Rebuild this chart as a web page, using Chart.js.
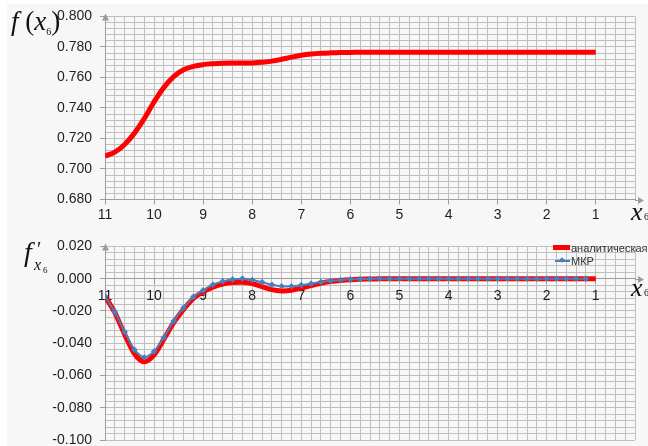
<!DOCTYPE html>
<html>
<head>
<meta charset="utf-8">
<script src="https://cdn.jsdelivr.net/npm/chart.js@4.4.1/dist/chart.umd.min.js"></script>
<style>
  html, body { margin: 0; padding: 0; width: 648px; height: 446px; overflow: hidden; background: #ffffff; }
  #frame { position: absolute; left: 7px; top: 4px; right: 0; bottom: 0; background: #f7f7f7; }
  .panel { position: absolute; left: 0; width: 648px; height: 230px; }
  #topPanel { top: 0; }
  #botPanel { top: 230px; }
  .m { position: absolute; font-family: "Liberation Serif", "Times New Roman", serif; color: #111; line-height: 1; white-space: nowrap; }
  .it { font-style: italic; }
  .lg { position: absolute; font-family: "Liberation Sans", Arial, sans-serif; font-size: 11px; line-height: 14px; color: #333; white-space: nowrap; }
  .sw { position: absolute; }
</style>
</head>
<body>
<div id="frame"></div>
<div class="panel" id="topPanel"><canvas id="cTop" width="648" height="230"></canvas></div>
<div class="panel" id="botPanel"><canvas id="cBot" width="648" height="230"></canvas></div>

<!-- axis titles -->
<div class="m" style="left:11px;top:8px;font-size:27px"><span class="it">f</span> (<span class="it">x</span><span style="font-size:10px;position:relative;top:5px">6</span>)</div>
<div class="m it" style="left:631px;top:199px;font-size:26px">x</div>
<div class="m" style="left:644px;top:212px;font-size:10px">6</div>

<div class="m it" style="left:24px;top:238px;font-size:28px">f</div>
<div class="m" style="left:37px;top:239px;font-size:20px">′</div>
<div class="m it" style="left:34px;top:257px;font-size:16px">x</div>
<div class="m" style="left:43px;top:266px;font-size:9px">6</div>
<div class="m it" style="left:631px;top:275px;font-size:26px">x</div>
<div class="m" style="left:644px;top:288px;font-size:10px">6</div>

<!-- legend -->
<div class="sw" style="left:553px;top:245px;width:17px;height:5px;background:#ff0000"></div>
<div class="lg" style="left:571px;top:241px">аналитическая</div>
<div class="sw" style="left:555px;top:260px;width:15px;height:2px;background:#4a7ebb"></div>
<div class="sw" style="left:560px;top:258px;width:4px;height:4px;background:#4a7ebb;transform:rotate(45deg)"></div>
<div class="lg" style="left:571px;top:254px">МКР</div>

<script>
// x6 grid of the computation, from 11 down to 1
const xs = [11, 10.8, 10.6, 10.4, 10.2, 10, 9.8, 9.6, 9.4, 9.2, 9, 8.8, 8.6, 8.4, 8.2, 8,
  7.8, 7.6, 7.4, 7.2, 7, 6.8, 6.6, 6.4, 6.2, 6, 5.8, 5.6, 5.4, 5.2, 5, 4.8, 4.6, 4.4, 4.2, 4,
  3.8, 3.6, 3.4, 3.2, 3, 2.8, 2.6, 2.4, 2.2, 2, 1.8, 1.6, 1.4, 1.2, 1];

// labelled x ticks
const xLabels = [11, 10, 9, 8, 7, 6, 5, 4, 3, 2, 1];

// f(x6)
const fTop = [0.7085, 0.7110, 0.7160, 0.7235, 0.7330, 0.7440, 0.7535, 0.7605, 0.7650, 0.7672,
  0.7684, 0.7690, 0.7693, 0.7694, 0.7694, 0.7695, 0.7699, 0.7707, 0.7719, 0.7733, 0.7745,
  0.7753, 0.7758, 0.7761, 0.7763, 0.7764,
  0.7765, 0.7765, 0.7765, 0.7765, 0.7765, 0.7765, 0.7765, 0.7765, 0.7765, 0.7765,
  0.7765, 0.7765, 0.7765, 0.7765, 0.7765, 0.7765, 0.7765, 0.7765, 0.7765, 0.7765,
  0.7765, 0.7765, 0.7765, 0.7765, 0.7765];

// analytic derivative f'_{x6}
const dfAnalytic = [-0.0110, -0.0210, -0.0345, -0.0465, -0.0515, -0.0472, -0.0375, -0.0273,
  -0.0190, -0.0123, -0.0082, -0.0052, -0.0033, -0.0024, -0.0022, -0.0030, -0.0050, -0.0068,
  -0.0076, -0.0072, -0.0058, -0.0043, -0.0028, -0.0018, -0.0011, -0.0006, -0.0003, -0.0002,
  -0.0001, 0, 0, 0, 0, 0, 0, 0, 0, 0, 0, 0, 0, 0, 0, 0, 0, 0, 0, 0, 0, 0, 0];

// finite-difference derivative (x6 = 11 ... 1.2)
const dfMkr = [-0.0109, -0.0207, -0.0330, -0.0441, -0.0488, -0.0451, -0.0365, -0.0263,
  -0.0181, -0.0113, -0.0072, -0.0037, -0.0017, -0.0005, 0.0000, -0.0008, -0.0022, -0.0038,
  -0.0047, -0.0047, -0.0040, -0.0031, -0.0021, -0.0013, -0.0008, -0.0004, -0.0002, -0.0001,
  0, 0, 0, 0, 0, 0, 0, 0, 0, 0, 0, 0, 0, 0, 0, 0, 0, 0, 0, 0, 0, 0];

// labelled y ticks
const yTopLabels = [0.68, 0.70, 0.72, 0.74, 0.76, 0.78, 0.80];
const yBotLabels = [-0.10, -0.08, -0.06, -0.04, -0.02, 0, 0.02];

const GRID = '#bfbfbf';
const AXIS = '#9c9c9c';
const TEXT = '#1e1e1e';
const FONT = { family: '"Liberation Sans", Arial, sans-serif', size: 14 };
const NONE = 'rgba(0,0,0,0)';

const near = (list, v) => list.some(t => Math.abs(t - v) < 1e-6);
const pts = (ys) => ys.map((y, i) => ({ x: xs[i], y }));

// arrowheads at the ends of both axes
const axisArrows = {
  id: 'axisArrows',
  afterDraw(chart, args, opts) {
    const { ctx, chartArea: a, scales } = chart;
    const yx = opts.atZero ? Math.round(scales.y.getPixelForValue(0)) + 0.5 : Math.round(a.bottom) + 0.5;
    const x0 = Math.round(a.left) + 0.5;
    ctx.save();
    ctx.strokeStyle = AXIS;
    ctx.fillStyle = AXIS;
    ctx.lineWidth = 1;
    ctx.beginPath();
    ctx.moveTo(a.right, yx);
    ctx.lineTo(a.right + 4, yx);
    ctx.stroke();
    ctx.beginPath();
    ctx.moveTo(a.right + 9, yx);
    ctx.lineTo(a.right + 3, yx - 3.5);
    ctx.lineTo(a.right + 3, yx + 3.5);
    ctx.closePath();
    ctx.fill();
    ctx.beginPath();
    ctx.moveTo(x0, a.top - 3);
    ctx.lineTo(x0 - 3.5, a.top + 4);
    ctx.lineTo(x0 + 3.5, a.top + 4);
    ctx.closePath();
    ctx.fill();
    ctx.restore();
  }
};

function xScale(extra, tickPadding) {
  return Object.assign({
    type: 'linear',
    reverse: true,
    min: 0.2,
    max: 11,
    ticks: {
      stepSize: 0.2, autoSkip: false, maxRotation: 0, minRotation: 0,
      color: TEXT, font: FONT, padding: tickPadding,
      callback: v => near(xLabels, v) ? String(Math.round(v)) : ''
    },
    grid: {
      color: GRID, lineWidth: 1, tickLength: 5,
      tickColor: c => (c.tick && near(xLabels, c.tick.value)) ? AXIS : NONE
    },
    border: { display: true, color: AXIS, width: 1 }
  }, extra);
}

function yScale(min, max, labels) {
  return {
    type: 'linear',
    min, max,
    ticks: {
      stepSize: 0.004, autoSkip: false, color: TEXT, font: FONT, padding: 8,
      callback: v => near(labels, v) ? (Math.abs(v) < 1e-9 ? 0 : v).toFixed(3) : ''
    },
    grid: {
      color: GRID, lineWidth: 1, tickLength: 5,
      tickColor: c => (c.tick && near(labels, c.tick.value)) ? AXIS : NONE
    },
    border: { display: true, color: AXIS, width: 1 },
    afterFit: s => { s.width = 105; }
  };
}

const common = {
  responsive: false,
  animation: false,
  events: [],
  plugins: { legend: { display: false }, tooltip: { enabled: false } }
};

new Chart(document.getElementById('cTop'), {
  type: 'line',
  data: {
    datasets: [{
      label: 'f(x6)',
      data: pts(fTop),
      borderColor: '#ff0000',
      borderWidth: 5,
      pointRadius: 0,
      tension: 0.4,
      fill: false
    }]
  },
  options: Object.assign({}, common, {
    layout: { padding: { left: 0, right: 13, top: 15, bottom: 0 } },
    scales: {
      x: xScale({ afterFit: s => { s.height = 30.5; } }, 2),
      y: yScale(0.68, 0.80, yTopLabels)
    },
    plugins: Object.assign({}, common.plugins, { axisArrows: { atZero: false } })
  }),
  plugins: [axisArrows]
});

new Chart(document.getElementById('cBot'), {
  type: 'line',
  data: {
    datasets: [{
      label: 'аналитическая',
      data: pts(dfAnalytic),
      borderColor: '#ff0000',
      borderWidth: 5,
      pointRadius: 0,
      tension: 0.3,
      fill: false,
      order: 1
    }, {
      label: 'МКР',
      data: pts(dfMkr),
      borderColor: '#4a7ebb',
      backgroundColor: '#4a7ebb',
      borderWidth: 2,
      pointStyle: 'rectRot',
      pointRadius: 2.8,
      pointBorderWidth: 1,
      tension: 0.25,
      fill: false,
      order: 0
    }]
  },
  options: Object.assign({}, common, {
    layout: { padding: { left: 0, right: 13, top: 15, bottom: 20 } },
    scales: {
      x: xScale({ position: { y: 0 } }, 4),
      y: yScale(-0.10, 0.02, yBotLabels)
    },
    plugins: Object.assign({}, common.plugins, { axisArrows: { atZero: true } })
  }),
  plugins: [axisArrows]
});
</script>
</body>
</html>
